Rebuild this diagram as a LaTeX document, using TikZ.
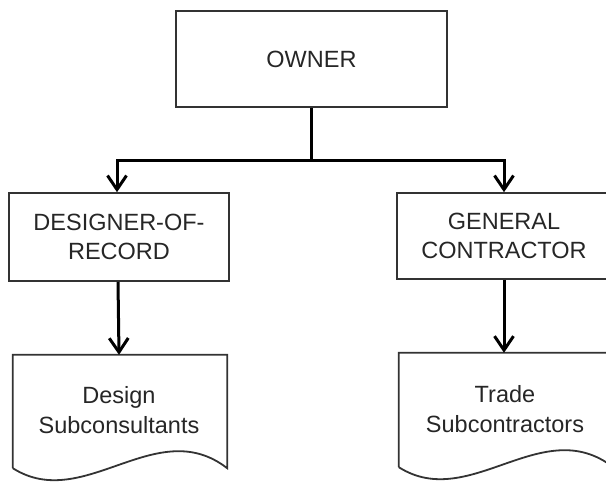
\documentclass[tikz,border=0pt]{standalone}
\usepackage{fontspec}
\setmainfont{Liberation Sans}
\usetikzlibrary{arrows.meta,calc}
\begin{document}
\begin{tikzpicture}[x=1pt,y=-1pt,
  every node/.style={font=\fontsize{23.5}{29.5}\selectfont, text=black!85, align=center},
  box/.style={draw=black!80, line width=1.6pt, rectangle, inner sep=0pt},
  docshape/.style={rectangle, inner sep=0pt},
  docline/.style={draw=black!80, line width=1.8pt, line join=miter},
  conn/.style={draw=black, line width=3pt},
  tip/.style={-{Straight Barb[length=14pt,width=19pt,line width=3pt]}}
]
\useasboundingbox (0,0) rectangle (606,483);
\clip (0,0) rectangle (606,483);

% top level
\node[box, minimum width=271pt, minimum height=96pt] (owner) at (311.5,59) {OWNER};

% second level
\node[box, minimum width=220pt, minimum height=88pt] (dor) at (119,237) {DESIGNER-OF-\\RECORD};
\node[box, minimum width=214pt, minimum height=86pt] (gc) at (504,236) {GENERAL\\CONTRACTOR};

% document shapes (frames only; the wavy outline is drawn below)
\node[docshape, minimum width=214pt, minimum height=113pt] (ds) at (120,411.5) {};
\node[docshape, minimum width=214pt, minimum height=114pt] (ts) at (506,410) {};

\draw[docline] (ds.south west) -- (ds.north west) -- (ds.north east) -- (ds.south east)
  .. controls ($(ds.south east)+(-71,-55)$) and ($(ds.south west)+(71,45)$) .. (ds.south west);
\draw[docline] (ts.south west) -- (ts.north west) -- (ts.north east) -- (ts.south east)
  .. controls ($(ts.south east)+(-71,-55)$) and ($(ts.south west)+(71,45)$) .. (ts.south west);

\node (dstext) at (119,410) {Design\\Subconsultants};
\node (tstext) at (505,409) {Trade\\Subcontractors};

% connectors
\coordinate (split) at (311.5,160);
\draw[conn] (owner.south) -- (split);
\draw[conn, tip] (split) -| ([xshift=-2pt]dor.north);
\draw[conn, tip] (split) -| (gc.north);
\draw[conn, tip] ([xshift=-1pt]dor.south) -- ([xshift=-1pt]ds.north);
\draw[conn, tip] (gc.south) -- ([xshift=-2pt]ts.north);
\end{tikzpicture}
\end{document}
